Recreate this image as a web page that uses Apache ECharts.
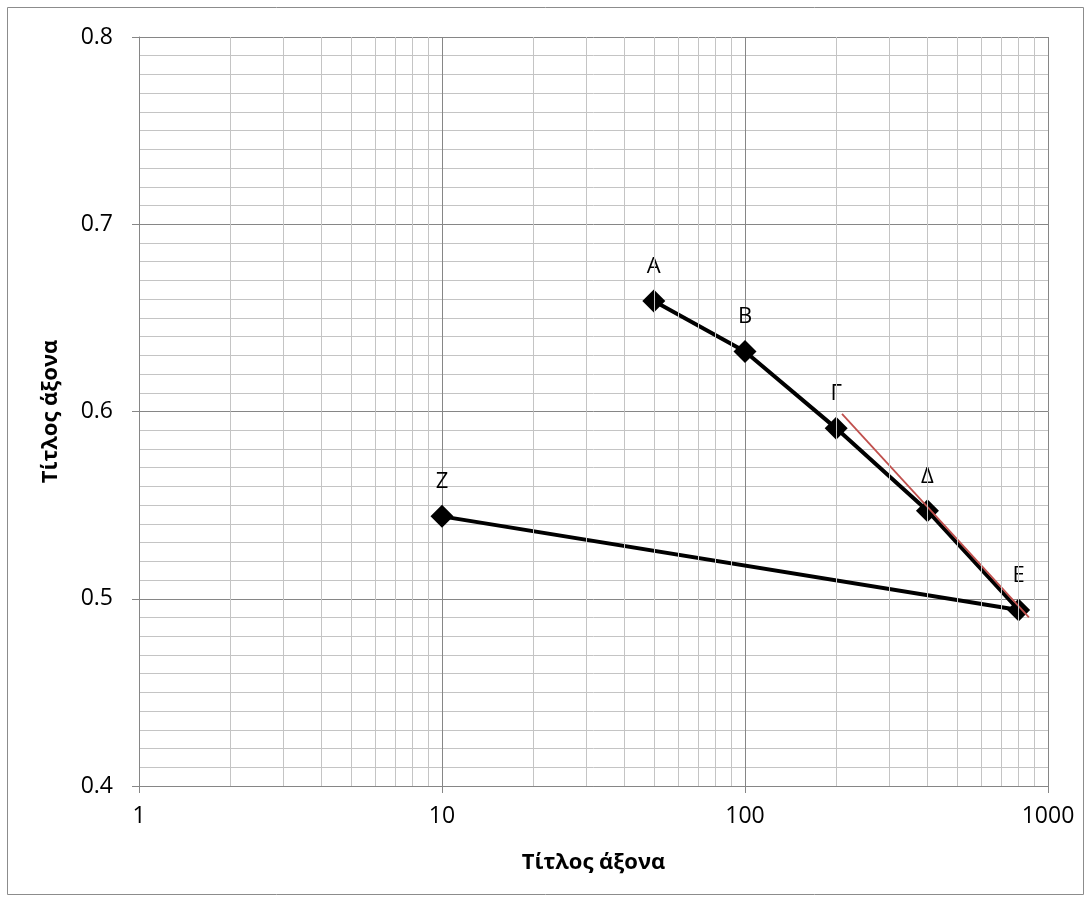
<!DOCTYPE html>
<html>
<head>
<meta charset="utf-8">
<script src="https://cdn.jsdelivr.net/npm/echarts@6/dist/echarts.min.js"></script>
<style>
  html, body { margin: 0; padding: 0; background: #fff; }
  #grafico { width: 1091px; height: 902px; }
</style>
</head>
<body>
<div id="grafico"></div>
<script>
// Datos
let etiquetas = ["Α", "Β", "Γ", "Δ", "Ε", "Ζ"];
let valoresX = [50, 100, 200, 400, 800, 10];
let valoresY = [0.659, 0.632, 0.591, 0.547, 0.494, 0.544];

// Línea de tendencia (roja)
let tendenciaX = [209, 865];
let tendenciaY = [0.5987, 0.490];

// Líneas secundarias del eje logarítmico
let lineasMenoresX = [2, 3, 4, 5, 6, 7, 8, 9, 20, 30, 40, 50, 60, 70, 80, 90, 200, 300, 400, 500, 600, 700, 800, 900];

let fuente = "'Open Sans', sans-serif";

function cargarGrafico() {
  let puntos = [];
  valoresX.forEach((x, i) => {
    puntos.push({ value: [x, valoresY[i]], name: etiquetas[i] });
  });

  let tendencia = tendenciaX.map((x, i) => [x, tendenciaY[i]]);

  let menores = lineasMenoresX.map(v => ({ xAxis: v }));

  echarts.init(document.querySelector("#grafico")).setOption({
    animation: false,
    graphic: [{
      type: 'rect',
      shape: { x: 7.5, y: 7.5, width: 1076, height: 887 },
      style: { fill: 'none', stroke: '#8c8c8c', lineWidth: 1 },
      z: -10
    }],
    grid: {
      left: 139,
      top: 37,
      right: 43,
      bottom: 116
    },
    xAxis: {
      type: 'log',
      logBase: 10,
      min: 1,
      max: 1000,
      name: 'Τίτλος άξονα',
      nameLocation: 'middle',
      nameGap: 66,
      nameTextStyle: { fontFamily: fuente, fontSize: 22, fontWeight: 'bold', color: '#000' },
      axisLine: { show: true, lineStyle: { color: '#868686', width: 1 } },
      axisTick: { show: true, inside: false, length: 7, lineStyle: { color: '#868686' } },
      axisLabel: {
        fontFamily: fuente, fontSize: 23, color: '#000', margin: 19,
        formatter: v => String(Math.round(v))
      },
      splitLine: { show: true, lineStyle: { color: '#868686', width: 1 } },
      minorTick: { show: false },
      minorSplitLine: { show: false }
    },
    yAxis: {
      type: 'value',
      min: 0.4,
      max: 0.8,
      interval: 0.1,
      name: 'Τίτλος άξονα',
      nameLocation: 'middle',
      nameGap: 77,
      nameRotate: 90,
      nameTextStyle: { fontFamily: fuente, fontSize: 22, fontWeight: 'bold', color: '#000' },
      axisLine: { show: true, lineStyle: { color: '#868686', width: 1 } },
      axisTick: { show: true, inside: false, length: 7, lineStyle: { color: '#868686' } },
      axisLabel: {
        fontFamily: fuente, fontSize: 23, color: '#000', margin: 26,
        formatter: v => v.toFixed(1)
      },
      splitLine: { show: true, lineStyle: { color: '#868686', width: 1 } },
      minorTick: { show: false, splitNumber: 10 },
      minorSplitLine: { show: true, lineStyle: { color: '#c4c4c4', width: 1 } }
    },
    series: [
      {
        // Serie vacía solo para las líneas menores verticales
        type: 'scatter',
        data: [],
        silent: true,
        z: 1,
        markLine: {
          silent: true,
          symbol: ['none', 'none'],
          label: { show: false },
          lineStyle: { color: '#c4c4c4', width: 1, type: 'solid' },
          data: menores
        }
      },
      {
        name: 'Serie',
        type: 'line',
        data: puntos,
        z: 3,
        symbol: 'diamond',
        symbolSize: 23,
        itemStyle: { color: '#000' },
        lineStyle: { color: '#000', width: 4 },
        label: {
          show: true,
          position: 'top',
          distance: 12,
          formatter: p => p.name,
          fontFamily: fuente,
          fontSize: 22,
          color: '#000'
        }
      },
      {
        name: 'Tendencia',
        type: 'line',
        data: tendencia,
        z: 4,
        symbol: 'none',
        lineStyle: { color: '#c0504d', width: 1.8 },
        silent: true
      }
    ]
  });
}

cargarGrafico();
</script>
</body>
</html>
